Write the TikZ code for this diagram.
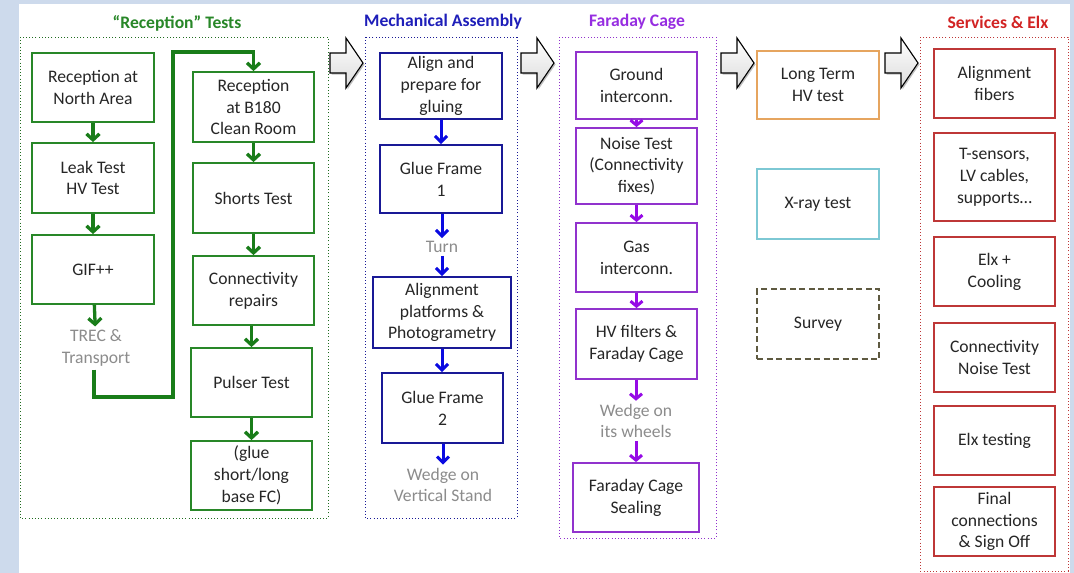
\documentclass[tikz,border=0pt]{standalone}
\usepackage{fontspec}
\setmainfont{Carlito}
\usetikzlibrary{arrows.meta}
\definecolor{bgblue}{RGB}{205,218,236}
\definecolor{cgreen}{RGB}{40,135,40}
\definecolor{agreen}{RGB}{25,125,25}
\definecolor{tblue}{RGB}{30,30,185}
\definecolor{bblue}{RGB}{25,25,150}
\definecolor{ablue}{RGB}{10,10,225}
\definecolor{tpurple}{RGB}{150,45,225}
\definecolor{bpurple}{RGB}{145,50,205}
\definecolor{apurple}{RGB}{150,10,230}
\definecolor{tred}{RGB}{210,35,35}
\definecolor{bred}{RGB}{190,55,55}
\definecolor{borange}{RGB}{230,165,95}
\definecolor{bcyan}{RGB}{125,200,212}
\definecolor{bsurvey}{RGB}{95,90,65}
\definecolor{labgray}{RGB}{140,140,140}
\tikzset{
  txt/.style={font=\fontsize{17.6}{21.8}\selectfont},
  ttl/.style={font=\fontsize{17.6}{21.8}\selectfont\bfseries, inner sep=0pt},
  box/.style={txt, draw, line width=1.8pt, fill=white, align=center, inner sep=0pt, text=black!85},
  gbox/.style={box, draw=cgreen},
  bbox/.style={box, draw=bblue},
  pbox/.style={box, draw=bpurple},
  rbox/.style={box, draw=bred},
  lbl/.style={txt, text=labgray, align=center, inner sep=3pt},
  cont/.style={line width=1pt, dash pattern=on 1pt off 2.2pt},
  garr/.style={draw=agreen, line width=3.3pt, -{Straight Barb[length=6pt,width=13pt]}},
  barr/.style={draw=ablue, line width=3pt, -{Straight Barb[length=6pt,width=12pt]}},
  parr/.style={draw=apurple, line width=3pt, -{Straight Barb[length=5pt,width=12pt]}},
}
\begin{document}
\begin{tikzpicture}[x=1pt,y=-1pt]
\useasboundingbox (0,0) rectangle (1074,573);
\fill[bgblue] (0,0) rectangle (1074,573);
\fill[white] (19,4) rectangle (1070,573);

% containers
\draw[cont, draw=cgreen!80!black] (20,37) rectangle (328,518);
\draw[cont, draw=bblue] (365,37) rectangle (517,518);
\draw[cont, draw=bpurple] (559,37) rectangle (716,538);
\draw[cont, draw=bred] (920,37) rectangle (1068,571);

% titles
\node[ttl, text=cgreen] (t1) at (177,23) {“Reception” Tests};
\node[ttl, text=tblue] (t2) at (443,22) {Mechanical Assembly};
\node[ttl, text=tpurple] (t3) at (637,22) {Faraday Cage};
\node[ttl, text=tred] (t4) at (998,22) {Services \& Elx};

% big arrows
\foreach \x in {330,521,721,885}{
  \fill[black!25] ({\x+1.5},54.5) -- ({\x+17.5},54.5) -- ({\x+17.5},39.5) -- ({\x+34.5},64.5) -- ({\x+17.5},89.5) -- ({\x+17.5},74.5) -- ({\x+1.5},74.5) -- cycle;
  \draw[line width=1.1pt, top color=white, bottom color=black!14, line join=miter] (\x,53) -- ({\x+16},53) -- ({\x+16},38) -- ({\x+33},63) -- ({\x+16},88) -- ({\x+16},73) -- (\x,73) -- cycle;
}

% Reception tests
\node[gbox, minimum width=122pt, minimum height=69pt] (ra) at (93,87.5) {Reception at\\North Area};
\node[gbox, minimum width=122pt, minimum height=70pt] (lk) at (93,178) {Leak Test\\HV Test};
\node[gbox, minimum width=122pt, minimum height=69pt] (gif) at (93,269.5) {GIF++};
\node[lbl] (trec) at (96,348) {TREC \&\\Transport};
\node[gbox, minimum width=121pt, minimum height=70pt] (rb) at (253.5,107) {Reception\\at B180\\Clean Room};
\node[gbox, minimum width=121pt, minimum height=70pt] (sh) at (253.5,198) {Shorts Test};
\node[gbox, minimum width=121pt, minimum height=69pt] (cr) at (253.5,290.5) {Connectivity\\repairs};
\node[gbox, minimum width=121pt, minimum height=69pt] (pt) at (251.5,382.5) {Pulser Test};
\node[gbox, minimum width=121pt, minimum height=69pt] (gl) at (251.5,475.5) {(glue\\short/long\\base FC)};
\coordinate (c1) at (173,397);
\coordinate (c2) at (173,52);

\draw[garr] (ra) -- (lk);
\draw[garr] (lk) -- (gif);
\draw[garr] (gif) -- (trec);
\draw[garr, line join=miter] ([xshift=-2pt]trec.south) |- (c1) -- (c2) -| (rb.north);
\draw[garr] (rb) -- (sh);
\draw[garr] (sh) -- (cr);
\draw[garr] (cr.south -| pt.north) -- (pt);
\draw[garr] (pt) -- (gl);

% Mechanical assembly
\node[bbox, minimum width=122pt, minimum height=66pt] (al) at (441,86) {Align and\\prepare for\\gluing};
\node[bbox, minimum width=122pt, minimum height=68pt] (g1) at (441,179) {Glue Frame\\1};
\node[lbl] (turn) at (442,247) {Turn};
\node[bbox, minimum width=138pt, minimum height=71pt] (ap) at (442,312.5) {Alignment\\platforms \&\\Photogrametry};
\node[bbox, minimum width=121pt, minimum height=70pt] (g2) at (442.5,408) {Glue Frame\\2};
\node[lbl] (wv) at (443,485) {Wedge on\\Vertical Stand};
\draw[barr] (al) -- (g1);
\draw[barr] (g1.south -| turn.north) -- (turn);
\draw[barr] (turn) -- (ap);
\draw[barr] (ap) -- (g2.north -| ap.south);
\draw[barr] (g2.south -| wv.north) -- (wv);

% Faraday cage
\node[pbox, minimum width=121pt, minimum height=67pt] (gi) at (636.5,85.5) {Ground\\interconn.};
\node[pbox, minimum width=121pt, minimum height=76pt] (nt) at (636.5,166) {Noise Test\\(Connectivity\\fixes)};
\node[pbox, minimum width=121pt, minimum height=69pt] (ga) at (636.5,257.5) {Gas\\interconn.};
\node[pbox, minimum width=121pt, minimum height=70pt] (hv) at (636.5,344) {HV filters \&\\Faraday Cage};
\node[lbl] (ww) at (636,421) {Wedge on\\its wheels};
\node[pbox, minimum width=126pt, minimum height=69pt] (fs) at (636,497.5) {Faraday Cage\\Sealing};
\draw[parr] (gi) -- (nt);
\draw[parr] (nt) -- (ga);
\draw[parr] (ga) -- (hv);
\draw[parr] (hv.south -| ww.north) -- (ww);
\draw[parr] (ww) -- (fs);

% single boxes
\node[box, draw=borange, minimum width=122pt, minimum height=68pt] (lt) at (818,85) {Long Term\\HV test};
\node[box, draw=bcyan, minimum width=122pt, minimum height=70pt] (xr) at (818,204) {X-ray test};
\node[box, draw=bsurvey, dash pattern=on 6pt off 3.5pt, minimum width=122pt, minimum height=70pt] (sv) at (818,324) {Survey};

% Services & Elx
\node[rbox, minimum width=121pt, minimum height=69pt] (af) at (994.5,83.5) {Alignment\\fibers};
\node[rbox, minimum width=121pt, minimum height=88pt] (ts) at (994.5,177) {T-sensors,\\LV cables,\\supports…};
\node[rbox, minimum width=121pt, minimum height=69pt] (ec) at (994.5,271.5) {Elx +\\Cooling};
\node[rbox, minimum width=121pt, minimum height=69pt] (cn) at (994.5,357.5) {Connectivity\\Noise Test};
\node[rbox, minimum width=121pt, minimum height=69pt] (et) at (994.5,440.5) {Elx testing};
\node[rbox, minimum width=121pt, minimum height=69pt] (fc) at (994.5,521.5) {Final\\connections\\\& Sign Off};
\end{tikzpicture}
\end{document}
